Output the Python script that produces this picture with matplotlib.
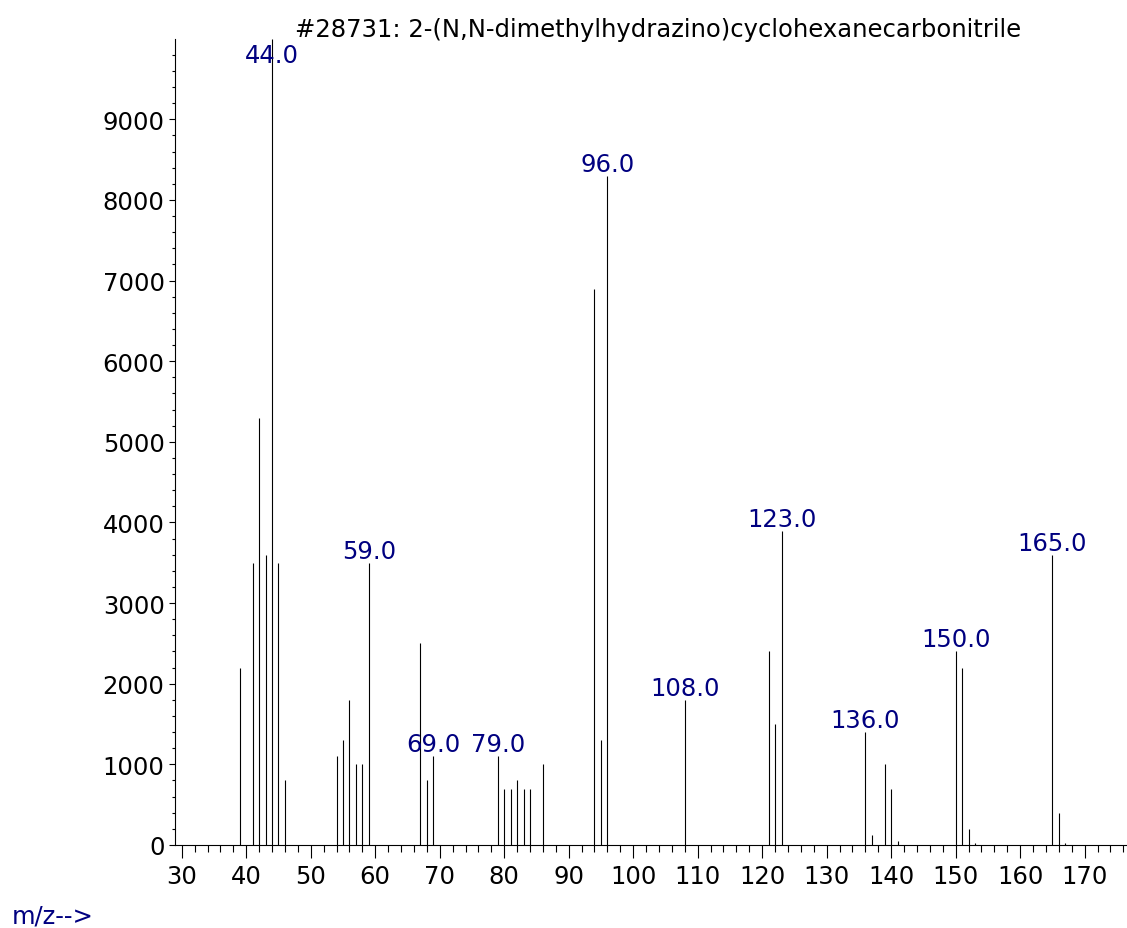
import matplotlib
matplotlib.use("Agg")
import matplotlib.pyplot as plt
from matplotlib.ticker import MultipleLocator

plt.rcParams['font.family'] = ['DejaVu Sans']

# spectrum data
mz = [39, 41, 42, 43, 44, 45, 46,
      54, 55, 56, 57, 58, 59,
      67, 68, 69,
      79, 80, 81, 82, 83, 84, 86,
      94, 95, 96,
      108,
      121, 122, 123,
      136, 137, 139, 140, 141,
      150, 151, 152, 153,
      165, 166, 167]
abundance = [2200, 3500, 5300, 3600, 10000, 3500, 800,
             1100, 1300, 1800, 1000, 1000, 3500,
             2500, 800, 1100,
             1100, 700, 700, 800, 700, 700, 1000,
             6900, 1300, 8300,
             1800,
             2400, 1500, 3900,
             1400, 120, 1000, 700, 50,
             2400, 2200, 200, 20,
             3600, 400, 30]
labelled = [44, 59, 69, 79, 96, 108, 123, 136, 150, 165]
title = "#28731: 2-(N,N-dimethylhydrazino)cyclohexanecarbonitrile"

FS = 17.5
W, H = 1127, 929
fig = plt.figure(figsize=(W / 100, H / 100), dpi=100)
ax = fig.add_axes([175 / W, 1 - 846 / H, (W - 175) / W, (846 - 40) / H])

ax.vlines(mz, 0, abundance, colors='black', linewidth=0.8)

ax.set_xlim(28.96, 176.56)
ax.set_ylim(0, 9996)

for side in ('top', 'right'):
    ax.spines[side].set_visible(False)
for side in ('left', 'bottom'):
    ax.spines[side].set_linewidth(0.8)

ax.xaxis.set_major_locator(MultipleLocator(10))
ax.xaxis.set_minor_locator(MultipleLocator(2))
ax.yaxis.set_major_locator(MultipleLocator(1000))
ax.yaxis.set_minor_locator(MultipleLocator(200))
ax.tick_params(axis='x', which='major', length=9.5, width=0.8, pad=4, labelsize=FS)
ax.tick_params(axis='x', which='minor', length=5, width=0.8)
ax.tick_params(axis='y', which='major', length=4, width=0.8, pad=3.5, labelsize=FS)
ax.tick_params(axis='y', which='minor', length=2, width=0.8)

ymax = ax.get_ylim()[1]
for m, a in zip(mz, abundance):
    if m not in labelled:
        continue
    # the base peak has no room above it, so its label sits below the top
    dy = -16.8 if a >= ymax else 3.6
    ax.annotate(f"{m:.1f}", (m, a), xytext=(0, dy), textcoords='offset points',
                ha='center', va='baseline', fontsize=FS, color='#000080',
                annotation_clip=False)

fig.text(658 / W, 1 - 37 / H, title, ha='center', va='baseline', fontsize=FS)
fig.text(12 / W, 1 - 924 / H, "m/z-->", ha='left', va='baseline', fontsize=FS,
         color='#000080')

fig.savefig("out.png", dpi=100)
